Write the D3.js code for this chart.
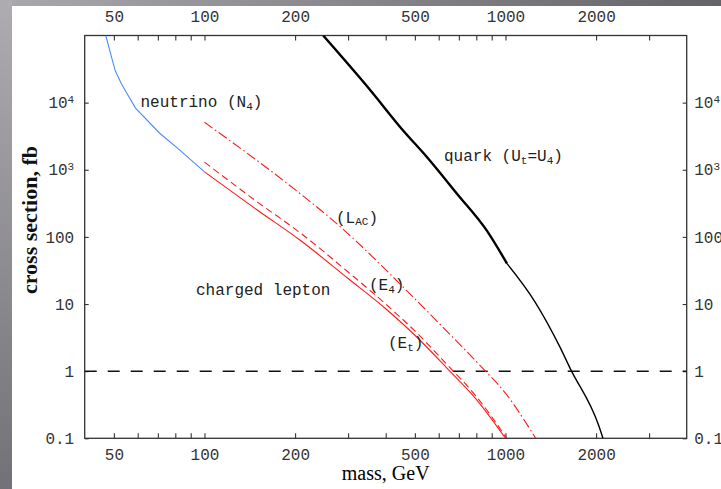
<!DOCTYPE html>
<html><head><meta charset="utf-8">
<script src="https://cdn.jsdelivr.net/npm/d3@7"></script>
<style>html,body{margin:0;padding:0;background:#fff;overflow:hidden}svg{display:block}</style>
</head><body><svg id="c" width="721" height="489"></svg>
<script>
// ---- data (mass GeV, cross section fb) ----
const xTicks = [50,60,70,80,90,100,200,300,400,500,600,700,800,900,1000,2000,3000];
const xLabels = [50,100,200,500,1000,2000];
const yTicks = [0.1,1,10,100,1000,10000];
const yLabels = ["0.1","1","10","100","10^3","10^4"];
const neutrinoN4 = [[47,100000],[49.5,42000],[50.5,30000],[53,19000],[59,8300],[71,3500],[83,1950],[100,930]];
const leptonEt  = [[100,930],[150,250],[208,89],[300,24],[400,8.5],[508,3.2],[640,1.1],[800,0.38],[1000,0.1]];
const leptonE4  = [[100,1300],[150,330],[208,115],[300,30],[400,10],[508,3.7],[640,1.25],[800,0.42],[1010,0.1]];
const leptonLAC = [[100,5100],[208,440],[275,158],[446,20],[620,4.5],[841,1.1],[1000,0.47],[1180,0.16],[1260,0.1]];
const quarkU4   = [[248,100000],[354,15700],[457,3850],[548,1550],[690,440],[866,125],[1012,40],[1250,11],[1516,2.3],[1640,1.1],[2035,0.16],[2108,0.1]];
const limitLine = 1;

// ---- layout ----
const svg = d3.select("#c");
const L = 84.7, R = 686.7, T = 35.5, B = 438.3;
const x = d3.scaleLog().domain([40,4000]).range([L,R]);
const y = d3.scaleLog().domain([0.1,1e5]).range([B,T]);
const mono = "'Liberation Mono', 'Courier New', monospace";
const serif = "'Liberation Serif', 'Times New Roman', serif";

// background frame (slide)
const defs = svg.append("defs");
const gTop = defs.append("linearGradient").attr("id","gTop").attr("x1","0").attr("x2","1").attr("y1","0").attr("y2","0");
gTop.append("stop").attr("offset","0").attr("stop-color","#aaa8ac");
gTop.append("stop").attr("offset","1").attr("stop-color","#646367");
const gLeft = defs.append("linearGradient").attr("id","gLeft").attr("x1","0").attr("x2","0").attr("y1","0").attr("y2","1");
gLeft.append("stop").attr("offset","0").attr("stop-color","#aeacb0");
gLeft.append("stop").attr("offset","1").attr("stop-color","#727177");
svg.append("rect").attr("width",721).attr("height",489).attr("fill","#fff");
svg.append("rect").attr("x",0).attr("y",0).attr("width",721).attr("height",6).attr("fill","url(#gTop)");
svg.append("rect").attr("x",0).attr("y",0).attr("width",12).attr("height",489).attr("fill","url(#gLeft)");

defs.append("clipPath").attr("id","clip").append("rect").attr("x",L).attr("y",T).attr("width",R-L).attr("height",B-T);

// axes
function styleAxis(g){
  g.selectAll("path.domain").remove();
  g.selectAll(".tick line").attr("stroke","#333").attr("stroke-width",1.1);
  g.selectAll(".tick text").attr("font-family",mono).attr("font-size","16px").attr("fill","#333");
}
const fmtX = d => xLabels.includes(d) ? String(d) : "";
svg.append("g").attr("transform",`translate(0,${B})`)
  .call(d3.axisBottom(x).tickValues(xTicks).tickSizeInner(-5).tickSizeOuter(0).tickPadding(10.5).tickFormat(fmtX)).call(styleAxis);
svg.append("g").attr("transform",`translate(0,${T})`)
  .call(d3.axisTop(x).tickValues(xTicks).tickSizeInner(-5).tickSizeOuter(0).tickPadding(14).tickFormat(fmtX)).call(styleAxis);

function yLab(sel){
  sel.selectAll(".tick text").each(function(d){
    const lbl = yLabels[yTicks.indexOf(d)];
    const t = d3.select(this); t.text(null);
    if (lbl.includes("^")) {
      const [b,e] = lbl.split("^");
      t.append("tspan").text(b);
      t.append("tspan").attr("dy","-0.45em").attr("font-size","11px").text(e);
    } else t.text(lbl);
  });
}
svg.append("g").attr("transform",`translate(${L},0)`)
  .call(d3.axisLeft(y).tickValues(yTicks).tickSizeInner(-4).tickSizeOuter(0).tickPadding(10.5)).call(styleAxis).call(yLab);
svg.append("g").attr("transform",`translate(${R},0)`)
  .call(d3.axisRight(y).tickValues(yTicks).tickSizeInner(-4).tickSizeOuter(0).tickPadding(7.5)).call(styleAxis).call(yLab);

// frame
svg.append("rect").attr("x",L).attr("y",T).attr("width",R-L).attr("height",B-T)
  .attr("fill","none").attr("stroke","#333").attr("stroke-width",1.3);

// curves
const plot = svg.append("g").attr("clip-path","url(#clip)");
const lineLin = d3.line().x(d=>x(d[0])).y(d=>y(d[1]));
const lineSm = d3.line().x(d=>x(d[0])).y(d=>y(d[1])).curve(d3.curveMonotoneX);

plot.append("line").attr("x1",L).attr("x2",R).attr("y1",y(limitLine)).attr("y2",y(limitLine))
  .attr("stroke","#111").attr("stroke-width",1.5).attr("stroke-dasharray","12,11");

plot.append("path").datum(neutrinoN4).attr("d",lineLin).attr("fill","none").attr("stroke","#4a8cff").attr("stroke-width",1.1);
plot.append("path").datum(leptonEt).attr("d",lineSm).attr("fill","none").attr("stroke","#ff1a1a").attr("stroke-width",1.1);
plot.append("path").datum(leptonE4).attr("d",lineSm).attr("fill","none").attr("stroke","#ff1a1a").attr("stroke-width",1.1).attr("stroke-dasharray","7,4");
plot.append("path").datum(leptonLAC).attr("d",lineSm).attr("fill","none").attr("stroke","#ff1a1a").attr("stroke-width",1.1).attr("stroke-dasharray","10,3,1.5,3");
plot.append("path").datum(quarkU4.filter(d=>d[0]<=1012)).attr("d",lineSm).attr("fill","none").attr("stroke","#000").attr("stroke-width",2.4);
plot.append("path").datum(quarkU4.filter(d=>d[0]>=1012)).attr("d",lineSm).attr("fill","none").attr("stroke","#000").attr("stroke-width",1.4);

// annotations
function note(px, py, parts){
  const t = svg.append("text").attr("x",px).attr("y",py).attr("font-family",mono).attr("font-size","16px").attr("fill","#222");
  let off = 0;
  parts.forEach(p=>{
    if (typeof p === "string") { t.append("tspan").attr("dy", -off).text(p); off = 0; }
    else { t.append("tspan").attr("dy",p.dy - off).attr("font-size",p.fs).text(p.t); off = p.dy; }
  });
}
note(140.5, 107, ["neutrino (N", {t:"4",dy:3,fs:"11px"}, ")"]);
note(444, 161, ["quark (U", {t:"t",dy:3,fs:"11px"}, "=U", {t:"4",dy:3,fs:"11px"}, ")"]);
note(336, 223, ["(L", {t:"AC",dy:2,fs:"11px"}, ")"]);
note(369, 290, ["(E", {t:"4",dy:3,fs:"11px"}, ")"]);
note(388, 348, ["(E", {t:"t",dy:3,fs:"11px"}, ")"]);
note(196, 295, ["charged lepton"]);

// axis titles
svg.append("text").attr("x",(L+R)/2).attr("y",479.5).attr("text-anchor","middle")
  .attr("font-family",serif).attr("font-size","20px").attr("fill","#000").text("mass, GeV");
svg.append("text").attr("transform",`translate(37,220) rotate(-90)`).attr("text-anchor","middle")
  .attr("font-family",serif).attr("font-size","22px").attr("font-weight","bold").attr("fill","#111").text("cross section, fb");
</script></body></html>
